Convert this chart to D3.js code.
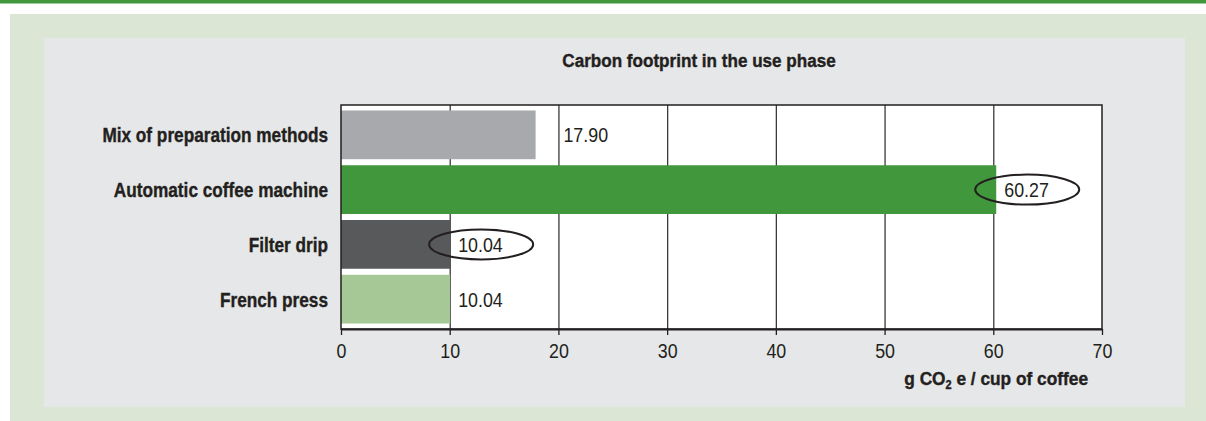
<!DOCTYPE html>
<html>
<head>
<meta charset="utf-8">
<script src="https://cdn.jsdelivr.net/npm/d3@7"></script>
<style>
  body { margin: 0; background: #fff; }
  text { font-family: "Liberation Sans", Arial, sans-serif; fill: #231f20; }
</style>
</head>
<body>
<svg></svg>
<script>
const categories = ["Mix of preparation methods", "Automatic coffee machine", "Filter drip", "French press"];
const values = [17.90, 60.27, 10.04, 10.04];
const valueLabels = ["17.90", "60.27", "10.04", "10.04"];
const circled = [false, true, true, false];
const barColors = ["#a7a9ac", "#41973b", "#58595b", "#a6c897"];
const xTicks = [0, 10, 20, 30, 40, 50, 60, 70];

const width = 1206;
const height = 421;
const plotLeft = 341;
const plotRight = 1102;
const plotTop = 105;
const plotBottom = 329;
// squeeze text horizontally, the original uses a condensed face
const narrowBold = 0.82;
const narrowPlain = 0.85;

const data = categories.map((c, i) => ({
  name: c, value: values[i], label: valueLabels[i], circled: circled[i], color: barColors[i]
}));

const svg = d3.select("svg")
  .attr("width", width)
  .attr("height", height);

// backgrounds
svg.append("rect").attr("x", 0).attr("y", 0).attr("width", width).attr("height", 3.5).attr("fill", "#41973b");
svg.append("rect").attr("x", 10).attr("y", 14).attr("width", width - 10).attr("height", height - 14).attr("fill", "#dce6d5");
svg.append("rect").attr("x", 44).attr("y", 38).attr("width", 1141).attr("height", 369).attr("fill", "#e6e7e8");
svg.append("rect").attr("x", plotLeft).attr("y", plotTop).attr("width", plotRight - plotLeft).attr("height", plotBottom - plotTop).attr("fill", "#fff");

var xScale = d3
  .scaleLinear()
  .domain([0, 70])
  .range([plotLeft, plotRight]);

var yScale = d3
  .scaleBand()
  .domain(categories)
  .range([plotTop, plotBottom])
  .paddingInner(0.11)
  .paddingOuter(0.1);

// grid lines
var grid = d3
  .axisBottom(xScale)
  .tickValues(xTicks.slice(1, -1))
  .tickSize(-(plotBottom - plotTop))
  .tickFormat("");

svg.append("g")
  .attr("transform", `translate(0, ${plotBottom})`)
  .call(grid)
  .call(g => g.select(".domain").remove())
  .selectAll("line")
  .attr("stroke", "#3a3a3a")
  .attr("stroke-width", 1.3);

// bars
svg.selectAll(".bar")
  .data(data)
  .enter()
  .append("rect")
  .attr("class", "bar")
  .attr("x", xScale(0))
  .attr("y", d => yScale(d.name))
  .attr("width", d => xScale(d.value) - xScale(0))
  .attr("height", yScale.bandwidth())
  .attr("fill", d => d.color);

// frame
svg.append("rect")
  .attr("x", plotLeft).attr("y", plotTop)
  .attr("width", plotRight - plotLeft).attr("height", plotBottom - plotTop)
  .attr("fill", "none")
  .attr("stroke", "#231f20")
  .attr("stroke-width", 1.5);

// x axis
var xAxis = d3
  .axisBottom(xScale)
  .tickValues(xTicks)
  .tickSize(6)
  .tickSizeOuter(0)
  .tickPadding(8);

svg.append("g")
  .attr("transform", `translate(0, ${plotBottom})`)
  .call(xAxis)
  .call(g => g.select(".domain").attr("stroke", "#231f20").attr("stroke-width", 2.2))
  .call(g => g.selectAll("line").attr("stroke", "#231f20").attr("stroke-width", 1.3))
  .call(g => g.selectAll("text")
    .attr("transform", `scale(${narrowPlain}, 1)`)
    .style("font-family", "Liberation Sans")
    .style("font-size", "21px")
    .attr("fill", "#231f20"));

// category labels
svg.selectAll(".cat")
  .data(data)
  .enter()
  .append("text")
  .attr("class", "cat")
  .attr("transform", d => `translate(328, ${yScale(d.name) + yScale.bandwidth() / 2}) scale(${narrowBold}, 1)`)
  .attr("dy", "0.35em")
  .style("text-anchor", "end")
  .style("font-size", "21px")
  .style("font-weight", "bold")
  .style("stroke", "#231f20")
  .style("stroke-width", 0.4)
  .text(d => d.name);

// value labels; a label that would run over the next grid line starts after it
var labelX = d => {
  var end = xScale(d.value);
  var next = xTicks.map(xScale).find(x => x > end + 2);
  return next !== undefined && next < end + 55 ? next + 5 : end + 8;
};
svg.selectAll(".val")
  .data(data)
  .enter()
  .append("text")
  .attr("class", "val")
  .attr("transform", d => `translate(${labelX(d)}, ${yScale(d.name) + yScale.bandwidth() / 2}) scale(${narrowPlain}, 1)`)
  .attr("dy", "0.35em")
  .style("font-size", "21px")
  .text(d => d.label);

svg.selectAll(".ring")
  .data(data.filter(d => d.circled))
  .enter()
  .append("ellipse")
  .attr("class", "ring")
  .attr("cx", d => labelX(d) + 23)
  .attr("cy", d => yScale(d.name) + yScale.bandwidth() / 2)
  .attr("rx", 52)
  .attr("ry", 15)
  .attr("fill", "none")
  .attr("stroke", "#231f20")
  .attr("stroke-width", 2);

// title
svg.append("text")
  .attr("transform", `translate(699, 67) scale(0.9, 1)`)
  .style("text-anchor", "middle")
  .style("font-size", "19px")
  .style("font-weight", "bold")
  .style("stroke", "#231f20")
  .style("stroke-width", 0.4)
  .text("Carbon footprint in the use phase");

// axis title
var axisTitle = svg.append("text")
  .attr("transform", `translate(1088, 385) scale(0.91, 1)`)
  .style("text-anchor", "end")
  .style("font-size", "19px")
  .style("font-weight", "bold")
  .style("stroke", "#231f20")
  .style("stroke-width", 0.4);
axisTitle.append("tspan").text("g CO");
axisTitle.append("tspan").attr("dy", 4).style("font-size", "12px").text("2");
axisTitle.append("tspan").attr("dy", -4).text(" e / cup of coffee");
</script>
</body>
</html>
